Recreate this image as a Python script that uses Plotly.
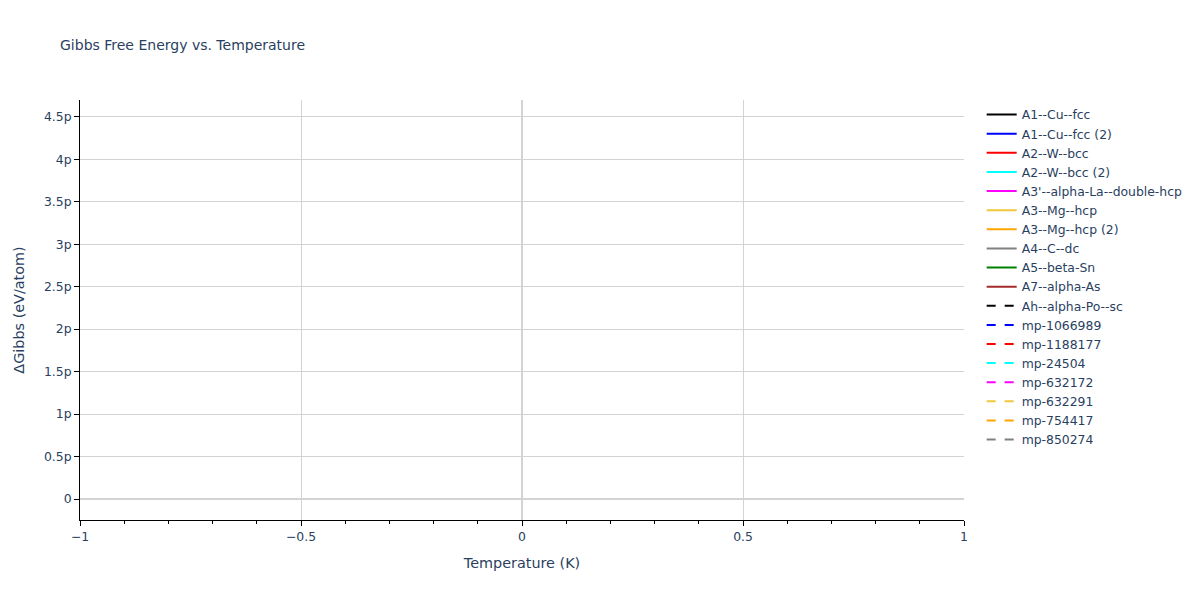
import plotly.graph_objects as go

names = ["A1--Cu--fcc", "A1--Cu--fcc (2)", "A2--W--bcc", "A2--W--bcc (2)",
         "A3'--alpha-La--double-hcp", "A3--Mg--hcp", "A3--Mg--hcp (2)", "A4--C--dc",
         "A5--beta-Sn", "A7--alpha-As", "Ah--alpha-Po--sc", "mp-1066989",
         "mp-1188177", "mp-24504", "mp-632172", "mp-632291", "mp-754417", "mp-850274"]
colors = ["black", "blue", "red", "cyan", "magenta", "#EEC73C", "orange", "gray",
          "green", "brown", "black", "blue", "red", "cyan", "magenta", "#EEC73C",
          "orange", "gray"]
dashes = ["solid"] * 10 + ["dash"] * 8
# each structure has a single temperature point (T = 0 K)
temperature = [[0.0]] * 18
gibbs = [[0.0], [0.0], [0.0], [0.0], [4.45e-12], [0.0], [0.0], [0.0], [0.0],
         [0.0], [0.0], [0.0], [0.0], [0.0], [0.0], [0.0], [0.0], [0.0]]

fig = go.Figure()
for n, c, d, t, g in zip(names, colors, dashes, temperature, gibbs):
    fig.add_trace(go.Scatter(x=t, y=g, mode="lines", name=n,
                             line=dict(color=c, dash=d)))

axis_common = dict(showgrid=True, gridcolor="lightgray", zeroline=True,
                   zerolinecolor="lightgray", zerolinewidth=2,
                   showline=True, linecolor="black", ticks="outside",
                   tickcolor="black")
fig.update_layout(
    width=1192, height=592,
    margin=dict(l=72, t=92, r=80, b=80),
    template="plotly_white",
    font=dict(family="Verdana, DejaVu Sans, sans-serif", size=12.4, color="#2a3f5f"),
    title=dict(text="Gibbs Free Energy vs. Temperature", font=dict(size=14),
               x=52 / 1192, xanchor="left", y=1 - 37 / 592, yanchor="middle"),
    xaxis=dict(title=dict(text="Temperature (K)", font=dict(size=14.4)),
               minor=dict(ticks="outside", tickcolor="black"), **axis_common),
    yaxis=dict(title=dict(text="ΔGibbs (eV/atom)", font=dict(size=14.4)), **axis_common),
    plot_bgcolor="white", paper_bgcolor="white",
)
fig.write_html("out.html")
